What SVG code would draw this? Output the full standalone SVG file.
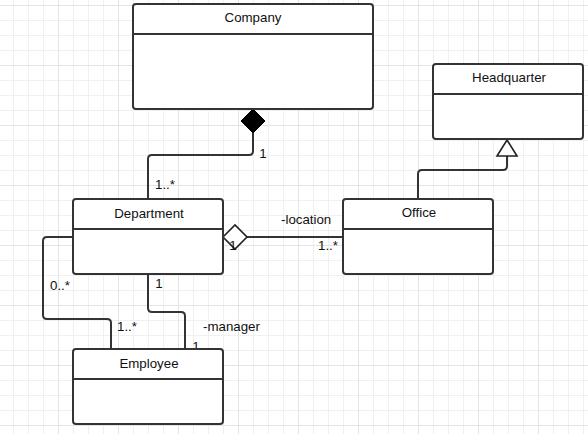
<svg xmlns="http://www.w3.org/2000/svg" width="588" height="434" viewBox="0 0 588 434">
<defs>
<pattern id="grid" patternUnits="userSpaceOnUse" x="-2" y="5" width="60" height="60">
<path d="M15.5,0V60M30.5,0V60M45.5,0V60M0,15.5H60M0,30.5H60M0,45.5H60" stroke="#f0f0f0" stroke-width="1" fill="none"/>
<path d="M0.5,0V60M0,0.5H60" stroke="#e4e4e4" stroke-width="1" fill="none"/>
</pattern>
</defs>
<style>
.box{fill:#fff;stroke:#333;stroke-width:2}
.sep{stroke:#333;stroke-width:2}
.title{font-family:"Liberation Sans",Arial,sans-serif;font-size:13.3px;fill:#111;text-anchor:middle}
.lbl{font-family:"Liberation Sans",Arial,sans-serif;font-size:13.3px;fill:#111}
.conn{fill:none;stroke:#333;stroke-width:2}
</style>
<rect width="588" height="434" fill="#fff"/>
<rect width="588" height="434" fill="url(#grid)"/>

<g id="connectors">
<path class="conn" d="M253,133V151Q253,155 249,155H152Q148,155 148,159V199"/>
<polygon points="253,109 265,121 253,133 241,121" fill="#000" stroke="#000" stroke-width="1"/>
<path class="conn" d="M247,237H343"/>
<polygon points="223,237 235,225 247,237 235,249" fill="#fff" stroke="#222" stroke-width="1.6"/>
<path class="conn" d="M507,156V166Q507,170 503,170H422Q418,170 418,174V199"/>
<polygon points="507,140 517,156 497,156" fill="#fff" stroke="#222" stroke-width="1.6"/>
<path class="conn" d="M73,237H47Q43,237 43,241V315Q43,319 47,319H107Q111,319 111,323V349"/>
<path class="conn" d="M148,274V308Q148,312 152,312H181Q185,312 185,316V349"/>
<text class="lbl" x="263" y="158" text-anchor="middle">1</text>
<text class="lbl" x="155" y="189">1..*</text>
<text class="lbl" x="281" y="224">-location</text>
<text class="lbl" x="318" y="250">1..*</text>
<text class="lbl" x="233" y="250" text-anchor="middle">1</text>
<text class="lbl" x="50" y="290">0..*</text>
<text class="lbl" x="117" y="331">1..*</text>
<text class="lbl" x="159" y="288" text-anchor="middle">1</text>
<text class="lbl" x="203" y="331">-manager</text>
<text class="lbl" x="196" y="351" text-anchor="middle">1</text>
</g>

<g id="company">
<rect class="box" x="133" y="4" width="240" height="105" rx="3"/>
<line class="sep" x1="133" y1="34" x2="373" y2="34"/>
<text class="title" x="253" y="22">Company</text>
</g>
<g id="headquarter">
<rect class="box" x="433" y="64" width="150" height="75" rx="3"/>
<line class="sep" x1="433" y1="94" x2="583" y2="94"/>
<text class="title" x="509" y="82">Headquarter</text>
</g>
<g id="department">
<rect class="box" x="73" y="199" width="150" height="75" rx="3"/>
<line class="sep" x1="73" y1="229" x2="223" y2="229"/>
<text class="title" x="149" y="218">Department</text>
</g>
<g id="office">
<rect class="box" x="343" y="199" width="150" height="75" rx="3"/>
<line class="sep" x1="343" y1="229" x2="493" y2="229"/>
<text class="title" x="419" y="217">Office</text>
</g>
<g id="employee">
<rect class="box" x="73" y="349" width="150" height="75" rx="3"/>
<line class="sep" x1="73" y1="379" x2="223" y2="379"/>
<text class="title" x="149" y="368">Employee</text>
</g>
</svg>
